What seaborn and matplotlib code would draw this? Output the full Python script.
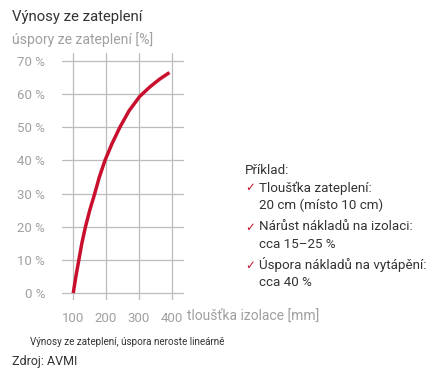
import matplotlib
matplotlib.use("Agg")
import matplotlib.pyplot as plt
import seaborn as sns
import pandas as pd

# Data
thickness_mm = [101, 109, 118, 127, 138, 151, 166, 180, 197, 218, 242, 270, 302, 332, 362, 392]
savings_pct = [0, 5, 10, 15, 20, 25, 30, 35, 40, 45, 50, 55, 59.3, 62.1, 64.5, 66.5]
x_ticks = [100, 200, 300, 400]
y_ticks = [0, 10, 20, 30, 40, 50, 60, 70]
y_tick_labels = ["0 %", "10 %", "20 %", "30 %", "40 %", "50 %", "60 %", "70 %"]

title = "Výnosy ze zateplení"
y_label = "úspory ze zateplení [%]"
x_label = "tloušťka izolace [mm]"
footnote = "Výnosy ze zateplení, úspora neroste lineárně"
source = "Zdroj: AVMI"
example_head = "Příklad:"
example_items = [
    ["Tloušťka zateplení:", "20 cm (místo 10 cm)"],
    ["Nárůst nákladů na izolaci:", "cca 15–25 %"],
    ["Úspora nákladů na vytápění:", "cca 40 %"],
]

sns.set_style("white")
FONT = ["Roboto", "DejaVu Sans"]
plt.rcParams["font.family"] = FONT

RED = "#c8102e"
GREY = "#a0a0a0"
DARK = "#333333"
GRID = "#bcbcbc"

fig = plt.figure(figsize=(4.4, 3.8), dpi=100)
ax = fig.add_axes([62 / 440, 1 - 300 / 380, 122 / 440, 247 / 380])

df = pd.DataFrame({"t": thickness_mm, "s": savings_pct})
sns.lineplot(data=df, x="t", y="s", ax=ax, color=RED, linewidth=2.5,
             solid_capstyle="butt", solid_joinstyle="round")

ax.set_xlim(67, 436)
ax.set_ylim(-2.1, 72.4)
ax.set_xticks(x_ticks)
ax.set_yticks(y_ticks)
ax.set_yticklabels(y_tick_labels)
ax.set_xlabel("")
ax.set_ylabel("")
for s in ax.spines.values():
    s.set_visible(False)
ax.grid(True, color=GRID, linewidth=0.9)
ax.set_axisbelow(True)
ax.tick_params(axis="both", length=0, labelcolor=GREY, labelsize=9.5)
ax.tick_params(axis="y", pad=12)
ax.tick_params(axis="x", pad=9)

fig.text(12 / 440, 1 - 17 / 380, title, fontsize=10.7, color=DARK, va="center", ha="left")
fig.text(12 / 440, 1 - 40 / 380, y_label, fontsize=10.1, color=GREY, va="center", ha="left")
fig.text(187 / 440, 1 - 316 / 380, x_label, fontsize=10, color=GREY, va="center", ha="left")
fig.text(30 / 440, 1 - 342 / 380, footnote, fontsize=7.15, color=DARK, va="center", ha="left")
fig.text(12 / 440, 1 - 362 / 380, source, fontsize=9, color=DARK, va="center", ha="left")

fig.text(245 / 440, 1 - 170 / 380, example_head, fontsize=9.6, color=DARK, va="center", ha="left")
item_y = [188, 227, 265]
for yy, lines in zip(item_y, example_items):
    fig.text(245 / 440, 1 - yy / 380, "✓", fontsize=8.5, color=RED, va="center", ha="left",
             family=["DejaVu Sans"])
    for k, line in enumerate(lines):
        fig.text(259 / 440, 1 - (yy + 17 * k) / 380, line, fontsize=9.6, color=DARK,
                 va="center", ha="left")

fig.savefig("out.png", dpi=100, facecolor="white")
